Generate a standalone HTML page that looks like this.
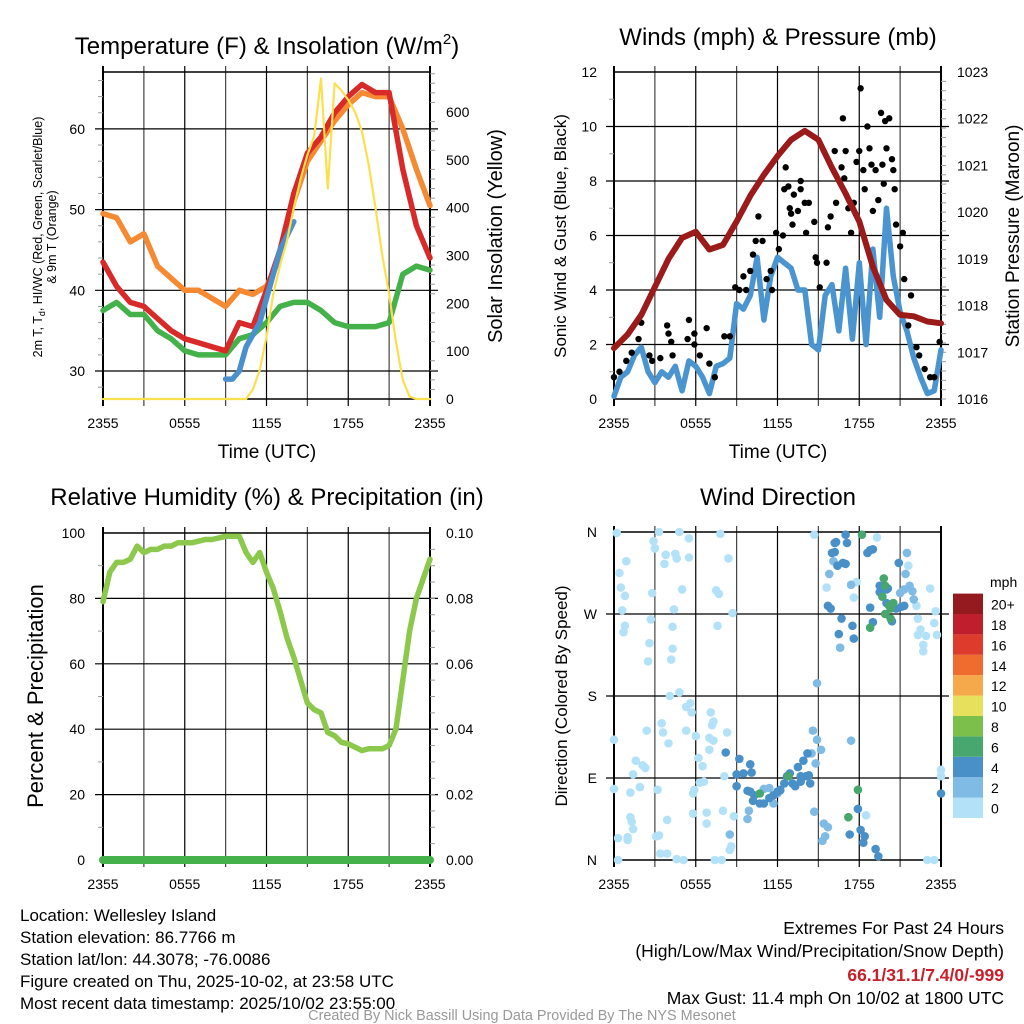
<!DOCTYPE html>
<html><head><meta charset="utf-8"><style>
html,body{margin:0;padding:0;background:#fff;}
svg{display:block;font-family:"Liberation Sans",sans-serif;}
</style></head><body>
<svg id="fig" width="1024" height="1024" viewBox="0 0 1024 1024" xmlns="http://www.w3.org/2000/svg">
<rect width="1024" height="1024" fill="#fff"/>
<text x="267" y="54" font-size="24" text-anchor="middle">Temperature (F) &amp; Insolation (W/m<tspan font-size="15" dy="-10">2</tspan><tspan dy="10">)</tspan></text>
<text x="778" y="45" font-size="24" text-anchor="middle">Winds (mph) &amp; Pressure (mb)</text>
<text x="267" y="505" font-size="24" text-anchor="middle">Relative Humidity (%) &amp; Precipitation (in)</text>
<text x="778" y="505" font-size="24" text-anchor="middle">Wind Direction</text>

<text x="267" y="458" font-size="19" text-anchor="middle">Time (UTC)</text>
<text x="778" y="458" font-size="19" text-anchor="middle">Time (UTC)</text>

<g font-size="12.5" text-anchor="middle">
<text transform="translate(42,237) rotate(-90)">2m T, T<tspan font-size="9" dy="3">d</tspan><tspan dy="-3">, HI/WC (Red, Green, Scarlet/Blue)</tspan></text>
<text transform="translate(56,237) rotate(-90)">&amp; 9m T (Orange)</text>
</g>
<text transform="translate(502,236) rotate(-90)" font-size="20" text-anchor="middle">Solar Insolation (Yellow)</text>
<text transform="translate(566,236) rotate(-90)" font-size="17" text-anchor="middle">Sonic Wind &amp; Gust (Blue, Black)</text>
<text transform="translate(1019,236) rotate(-90)" font-size="19" text-anchor="middle">Station Pressure (Maroon)</text>
<text transform="translate(43,696) rotate(-90)" font-size="22" text-anchor="middle">Percent &amp; Precipitation</text>
<text transform="translate(567,696) rotate(-90)" font-size="17" text-anchor="middle">Direction (Colored By Speed)</text>

<g id="layers"></g>

<g font-size="17">
<text x="20" y="921">Location: Wellesley Island</text>
<text x="20" y="943">Station elevation: 86.7766 m</text>
<text x="20" y="965">Station lat/lon: 44.3078; -76.0086</text>
<text x="20" y="987">Figure created on Thu, 2025-10-02, at 23:58 UTC</text>
<text x="20" y="1009">Most recent data timestamp: 2025/10/02 23:55:00</text>
</g>
<g font-size="17.5" text-anchor="end">
<text x="1004" y="934">Extremes For Past 24 Hours</text>
<text x="1004" y="957">(High/Low/Max Wind/Precipitation/Snow Depth)</text>
<text x="1004" y="981" fill="#c8202a" font-weight="bold">66.1/31.1/7.4/0/-999</text>
<text x="1004" y="1004">Max Gust: 11.4 mph On 10/02 at 1800 UTC</text>
</g>
<text x="522" y="1020" font-size="14.4" fill="#999" text-anchor="middle">Created By Nick Bassill Using Data Provided By The NYS Mesonet</text>
</svg>
<script>
// ---------- data ----------
const timeLabels = ["2355","0555","1155","1755","2355"];
const hourly = [0,1,2,3,4,5,6,7,8,9,10,11,12,13,14,15,16,17,18,19,20,21,22,23,24];
const halfHourly = Array.from({length:49},(_, i)=>i/2);
const tempRed = [43.5,40.5,38.5,38,36.5,35,34,33.5,33,32.5,36,35.5,40,45,52,57,59,62,64,65.5,64.5,64.5,55,48,44];
const tempOrange = [49.5,49,46,47,43,41.5,40,40,39,38,40,39.5,40.5,44,51,56,58.5,61,63,64.5,64,64,60,55,50.5];
const tempGreen = [37.5,38.5,37,37,35,34,32.5,32,32,32,34,34.5,36,38,38.5,38.5,37.5,36,35.5,35.5,35.5,36,42,43,42.5];
const hiwcHours = [9,9.5,10,10.5,11,11.5,12,13,14];
const hiwcBlue = [29,29,30,33,34.5,36,39,45,48.5];
const solarYellow = [0,0,0,0,0,0,0,0,0,0,0,0,0,0,0,0,0,0,0,0,0,0,20,60,130,220,280,330,400,460,510,550,670,440,660,645,625,600,560,490,400,300,220,120,40,5,0,0,0];
const tempTicks = [30,40,50,60];
const solarTicks = [0,100,200,300,400,500,600];

const windBlue = [0.1,0.8,1.0,1.6,1.9,1.0,0.6,1.0,0.8,1.2,0.3,1.4,1.2,0.8,0.2,1.2,1.3,1.5,3.5,3.3,3.8,5.2,2.9,4.5,5.2,5.0,4.8,4.0,4.0,2.0,1.8,3.8,4.2,2.5,4.8,2.2,5.0,2.0,5.5,3.0,7.0,4.5,3.2,2.5,1.5,0.8,0.2,0.3,1.8];
const pressure = [1017.09,1017.38,1017.8,1018.4,1019.0,1019.45,1019.58,1019.2,1019.3,1019.8,1020.35,1020.8,1021.2,1021.55,1021.74,1021.55,1020.95,1020.4,1019.8,1018.83,1018.12,1017.8,1017.77,1017.66,1017.62];
const gustHours = [0,0.4,0.9,1.3,1.8,2.0,2.6,2.8,3.4,3.9,4.0,4.2,4.3,5.4,5.5,5.9,5.9,6.3,6.8,7.0,7.4,8.1,8.5,8.9,9.2,9.7,9.5,10.0,10.2,10.4,10.6,10.9,11.2,11.5,11.6,11.9,12.1,12.4,12.5,12.6,12.8,12.9,13.0,13.1,13.2,13.5,13.7,13.7,14.0,14.1,14.3,14.7,14.8,14.9,15.1,15.6,15.7,15.9,16.2,16.3,16.7,16.8,16.9,17.0,17.2,17.4,17.6,17.8,18.0,18.1,18.3,18.4,18.6,18.75,18.9,19.0,19.2,19.4,19.6,19.7,19.8,19.9,20.0,20.2,20.4,20.5,20.6,20.7,21.0,21.2,21.3,21.8,21.6,22.2,22.4,22.8,23.2,23.5,23.9];
const gustMph = [0.8,1.0,1.4,1.7,2.2,2.8,1.6,1.4,1.5,2.7,2.4,2.1,1.6,2.2,2.9,2.4,2.0,1.6,2.6,1.3,0.8,2.3,2.3,4.1,4.0,4.0,4.5,4.7,5.3,5.8,6.7,5.8,4.4,4.7,4.0,6.1,5.5,6.0,7.7,8.5,7.8,7.0,6.8,6.4,7.5,6.9,8.0,7.7,7.2,6.1,7.2,6.5,5.2,5.0,4.1,5.0,6.3,6.7,9.1,7.2,8.5,10.3,8.1,9.1,7.0,6.1,7.2,8.7,9.1,11.4,8.4,7.7,10.0,9.2,8.6,6.9,8.4,7.3,10.5,8.6,7.9,10.2,9.2,10.3,8.8,8.4,7.7,6.4,5.6,6.1,4.4,3.8,2.7,1.9,1.6,1.1,0.8,0.8,2.1];
const windTicks = [0,2,4,6,8,10,12];
const pressureTicks = [1016,1017,1018,1019,1020,1021,1022,1023];

const rhPercent = [79,88,91,91,92,96,94,95,95,96,96,97,97,97,97.5,98,98,98.5,99,99,99,94,91,94,88,83,76,68,62,55,48,46,45,39,38,36,35.5,34.5,33.5,34,34,34,35,40,55,70,80,86,92];
const precipIn = [0,0,0,0,0,0,0,0,0,0,0,0,0,0,0,0,0,0,0,0,0,0,0,0,0];
const rhTicks = [0,20,40,60,80,100];
const precipTicks = ["0.00","0.02","0.04","0.06","0.08","0.10"];

const dirHours = [0.2,0.4,0.5,0.8,0.6,0.8,0.7,0.9,2.9,3.0,3.3,3.7,3.8,4.5,4.6,4.8,5.5,5.5,5.0,2.8,2.7,4.3,4.4,2.6,4.3,2.5,4.2,7.8,8.4,7.5,7.7,8.7,7.6,4.1,4.8,5.3,5.6,5.7,2.4,3.5,3.6,4.0,5.3,6.0,7.1,7.3,7.2,8.3,7.0,7.3,7.0,6.2,6.5,6.6,6.3,5.9,5.8,8.1,1.6,1.4,2.1,2.3,1.9,1.2,0.0,0.0,3.2,1.2,1.3,1.4,1.0,1.0,0.3,3.1,3.3,3.9,3.4,3.9,4.6,5.1,5.8,6.8,6.8,8.0,8.8,8.6,8.5,7.4,7.9,0.3,23.0,23.5,24.0,24.0,21.6,23.2,23.6,22.2,22.3,22.5,22.7,22.7,22.9,23.5,23.7,22.3,18.5,14.7,15.6,17.6,17.8,19.3,
21.5,21.4,21.0,21.3,21.7,21.9,22.0,15.8,16.1,17.4,16.6,14.9,14.6,14.9,15.2,14.8,14.5,17.4,14.7,15.4,15.7,15.5,15.3,8.5,9.9,9.8,11.0,11.4,11.7,12.2,12.0,
16.2,16.3,17.0,17.1,16.0,16.2,16.4,16.8,17.0,18.6,18.8,19.0,20.9,15.7,15.9,16.7,17.5,16.5,17.6,18.8,19.0,19.5,19.5,20.0,20.1,20.0,20.4,20.7,21.1,21.3,8.2,9.2,10.0,10.1,9.5,9.0,9.0,9.8,10.0,10.3,10.2,10.7,11.0,11.4,11.7,12.0,12.2,12.5,12.7,12.9,13.1,13.3,13.5,13.7,13.9,14.2,14.3,14.4,13.7,14.1,17.9,18.1,18.4,18.3,19.2,19.4,17.3,24.0,
18.2,19.8,19.9,19.7,20.2,20.5,20.3,19.9,20.3,18.8,10.7,12.8,17.9,17.2];
const dirDegrees = [359,315,299,290,274,257,250,328,350,342,360,325,335,336,331,360,353,332,297,293,264,256,275,238,232,218,220,358,331,296,292,271,257,180,184,168,172,162,142,150,140,128,142,136,162,152,148,140,134,131,121,112,103,86,85,77,73,92,109,94,104,101,80,74,132,78,77,47,42,34,25,22,24,26,27,44,7,7,1,0,51,52,40,54,48,15,11,0,0,0,0,0,99,92,323,298,273,279,265,253,236,229,246,260,247,247,49,357,299,288,305,354,
337,314,293,297,301,295,286,314,328,302,233,194,142,132,121,106,117,131,53,40,36,26,21,28,54,45,78,79,62,76,73,
348,349,357,348,337,338,323,326,325,337,340,341,326,279,276,265,257,248,243,277,261,294,301,297,298,282,262,276,278,279,118,111,105,96,95,94,81,76,75,71,65,62,62,68,71,75,77,84,92,95,84,81,102,92,109,117,93,84,86,92,56,33,26,19,12,4,28,73,
357,309,301,289,279,282,276,270,265,255,73,92,77,47];
const dirSpeeds = [].concat(Array(112).fill(0.8), Array(31).fill(2.8), Array(68).fill(4.8), Array(14).fill(6.8));
const dirLabels = ["N","E","S","W","N"];
const speedBinLabels = ["0","2","4","6","8","10","12","14","16","18","20+"];
const speedColors = ["#b3e2f8","#80bbe5","#4a90c8","#48a66f","#7cc04b","#e6e05c","#f6a94a","#ef6b2e","#dd3b2c","#bf1f2c","#941a1f"];

// ---------- helpers ----------
const NS="http://www.w3.org/2000/svg";
const root=document.getElementById('layers');
function mk(tag,attrs,parent){const e=document.createElementNS(NS,tag);for(const k in attrs)e.setAttribute(k,attrs[k]);(parent||root).appendChild(e);return e;}
function panel(x0,x1,y0,y1){return {x0,x1,y0,y1,sx:h=>x0+(h/24)*(x1-x0)};}
const P1=panel(103,430,72,399), P2=panel(614,941,72,399), P3=panel(103,430,533,860), P4=panel(614,941,532,860);
const yT=v=>371-(v-30)*8.07, yS=v=>399-v*0.4783;
const yW=v=>399-v*27.25, yP=v=>399-(v-1016)*46.71;
const yRH=v=>860-v*3.27, yPr=v=>860-v*3270;
const yDir=d=>860-d*(328/360);

function grid(P,name,hLines){
  const g=mk('g',{});
  
  
  for(let i=0;i<=8;i++){const x=P.x0+i*(P.x1-P.x0)/8;mk('line',{x1:x,x2:x,y1:P.y0-6,y2:P.y1+7,stroke:i%2?'#444':'#000','stroke-width':i==0||i==8?2:1.2},g);}
  hLines.forEach(y=>mk('line',{x1:P.x0-8,x2:P.x1+8,y1:y,y2:y,stroke:'#000','stroke-width':1.2},g));
  mk('line',{x1:P.x0,x2:P.x1,y1:P.y0,y2:P.y0,stroke:'#000','stroke-width':1.5},g);
  mk('line',{x1:P.x0,x2:P.x1,y1:P.y1,y2:P.y1,stroke:'#000','stroke-width':1.5},g);
  const tl=mk('g',{'font-size':14,'text-anchor':'middle'});
  
  
  timeLabels.forEach((t,i)=>{const e=mk('text',{x:P.x0+i*(P.x1-P.x0)/4,y:P.y1+29},tl);e.textContent=t;});
}
function minor(P,side,ys){ys.forEach(y=>{const x=side=='r'?P.x1:P.x0;mk('line',{x1:x,x2:side=='r'?x+5:x-5,y1:y,y2:y,stroke:'#999','stroke-width':1});});}
function ylabels(x,anchor,vals,yf,name,fmt){
  const g=mk('g',{'font-size':14,'text-anchor':anchor});
  
  
  vals.forEach(v=>{const e=mk('text',{x:x,y:yf(v)+5},g);e.textContent=fmt?fmt(v):v;});
}
function path(xs,ys,color,w,name){
  const d=xs.map((x,i)=>(i?'L':'M')+x.toFixed(1)+','+ys[i].toFixed(1)).join('');
  const p=mk('path',{d:d,fill:'none',stroke:color,'stroke-width':w,'stroke-linejoin':'round','stroke-linecap':'round'});
  
  
  return p;
}

// ---------- panel 1 ----------
grid(P1,'temp',tempTicks.map(yT).concat([yT(70)]).filter(y=>y>P1.y0&&y<P1.y1));
for(let v=0;v<=680;v+=20) if(v%100) minor(P1,'r',[yS(v)]);
for(let v=28;v<=66;v+=2) if(v%10) minor(P1,'l',[yT(v)]);
ylabels(85,'end',tempTicks,yT,'temp-y-tick-labels');
ylabels(446,'start',solarTicks,yS,'solar-y-tick-labels');
path(hourly.map(P1.sx),tempOrange.map(yT),'#f58a33',5.5,'line-9m-temp');
path(hourly.map(P1.sx),tempGreen.map(yT),'#44b14a',5.5,'line-dewpoint');
path(hourly.map(P1.sx),tempRed.map(yT),'#d92a2a',5.5,'line-2m-temp');
path(hiwcHours.map(P1.sx),hiwcBlue.map(yT),'#4a90cc',5.5,'line-heat-index-windchill');
path(halfHourly.map(P1.sx),solarYellow.map(yS),'#fbe04e',2.2,'line-solar-insolation');

// ---------- panel 2 ----------
grid(P2,'wind',windTicks.map(yW).filter(y=>y>P2.y0+1&&y<P2.y1-1));
for(let v=1;v<12;v+=2) minor(P2,'l',[yW(v)]);
for(let v=1016;v<1023;v+=0.2) minor(P2,'r',[yP(v)]);
ylabels(597,'end',windTicks,yW,'wind-y-tick-labels');
ylabels(957,'start',pressureTicks,yP,'pressure-y-tick-labels');
path(halfHourly.map(P2.sx),windBlue.map(yW),'#4a94d0',5.5,'line-sustained-wind');
const gg=mk('g',{});


gustHours.forEach((h,i)=>{const c=mk('circle',{cx:P2.sx(h),cy:yW(gustMph[i]),r:3.2,fill:'#000'},gg);

});
path(hourly.map(P2.sx),pressure.map(yP),'#9b1a1a',6,'line-station-pressure');

// ---------- panel 3 ----------
grid(P3,'rh',rhTicks.map(yRH).filter(y=>y>P3.y0+1&&y<P3.y1-1));
for(let v=10;v<100;v+=20) minor(P3,'l',[yRH(v)]);
for(let v=0.005;v<0.1;v+=0.005) minor(P3,'r',[yPr(v)]);
ylabels(85,'end',rhTicks,yRH,'rh-y-tick-labels');
ylabels(446,'start',[0,0.02,0.04,0.06,0.08,0.1],yPr,'precip-y-tick-labels',v=>precipTicks[Math.round(v*50)]);
path(halfHourly.map(P3.sx),rhPercent.map(yRH),'#8cc84b',5.5,'line-relative-humidity');
path(hourly.map(P3.sx),precipIn.map(yPr),'#44b14a',8,'line-precipitation');

// ---------- panel 4 ----------
grid(P4,'direction',[90,180,270].map(yDir));
ylabels(597,'end',[0,90,180,270,360],yDir,'direction-y-tick-labels',v=>dirLabels[v/90]);
const sg=mk('g',{});


dirHours.forEach((h,i)=>{const bin=Math.min(10,Math.floor(dirSpeeds[i]/2));
const c=mk('circle',{cx:P4.sx(h),cy:yDir(dirDegrees[i]),r:4.3,fill:speedColors[bin]},sg);

});

// colorbar
const cb=mk('g',{});


const ct=mk('text',{x:990,y:587,'font-size':14},cb);ct.textContent='mph';
speedColors.forEach((c,i)=>{const y=818-(i+1)*20.4;
mk('rect',{x:953,y:y,width:30,height:20.4,fill:c},cb);
const t=mk('text',{x:991,y:y+16,'font-size':14},cb);t.textContent=speedBinLabels[i];});
</script>
</body></html>
